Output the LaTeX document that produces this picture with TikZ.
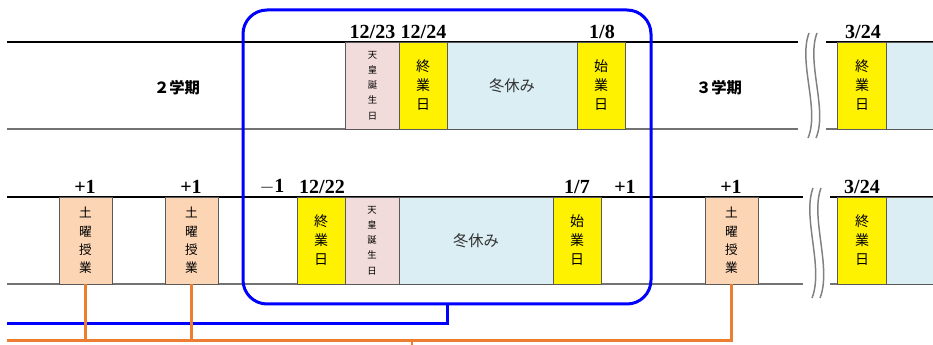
\documentclass[tikz,border=0pt]{standalone}
\usepackage{fontspec}
\newfontfamily\jp{Noto Sans CJK JP}
\newfontfamily\dt{Liberation Serif}
\begin{document}
\begin{tikzpicture}[x=0.75pt,y=-0.75pt,
  cell/.style={draw=black!65, line width=0.7pt, inner sep=0pt, minimum height=65.25pt, align=center},
  wpink/.style={cell, fill=pinkc, minimum width=40pt},
  wyel/.style={cell, fill=yellow, minimum width=36pt},
  wsat/.style={cell, fill=peach, minimum width=39.75pt},
  datelbl/.style={font=\dt\fontsize{15}{15}\selectfont\bfseries, inner sep=0pt},
  toprule/.style={line width=1.6pt, black},
  botrule/.style={line width=1.1pt, black!55},
  blueline/.style={draw=blue, line width=2.25pt},
  orangeline/.style={draw=orangec, line width=2.25pt},
  wave/.style={draw=black!50, line width=1.1pt},
  small/.style={font=\jp\fontsize{7}{11.4}\selectfont},
  mid/.style={font=\jp\fontsize{10.5}{14.2}\selectfont},
  sat/.style={font=\jp\fontsize{9.5}{13.7}\selectfont}
]
\definecolor{pinkc}{HTML}{F2DCDB}
\definecolor{lblue}{HTML}{DAEEF3}
\definecolor{peach}{HTML}{FCD5B4}
\definecolor{orangec}{HTML}{ED7D31}
\useasboundingbox (0,0) rectangle (933,345);
\clip (0,0) rectangle (933,345);

% ---------- top row ----------
\draw[toprule] (7,42) -- (798,42);
\draw[toprule] (826,42) -- (940,42);
\draw[botrule] (7,129) -- (798,129);
\draw[botrule] (826,129) -- (940,129);

\node[wpink, small] (tpink) at (372.5,85.5) {天\\皇\\誕\\生\\日};
\node[wyel, mid] (tyel1) at (423,85.5) {終\\業\\日};
\node[cell, fill=lblue, minimum width=97.5pt, font=\jp\fontsize{11.5}{14}\selectfont, text=black!80] (tblue) at (512,85.5) {冬休み};
\node[wyel, mid] (tyel2) at (601,85.5) {始\\業\\日};
\node[cell, fill=yellow, minimum width=37.5pt, mid] (tyel3) at (862,85.5) {終\\業\\日};
\node[cell, fill=lblue, minimum width=40pt] (tblue2) at (913.5,85.5) {};

\node[font=\jp\fontsize{11.5}{11.5}\selectfont\bfseries] (t2) at (177,88) {２学期};
\node[font=\jp\fontsize{11.5}{11.5}\selectfont\bfseries] (t3) at (719,88) {３学期};

\node[datelbl] (d1223) at (372.5,32) {12/23};
\node[datelbl] (d1224) at (423.5,32) {12/24};
\node[datelbl] (d18) at (602,32) {1/8};
\node[datelbl] (d324a) at (863,32) {3/24};

% ---------- bottom row ----------
\draw[toprule, line width=1.1pt] (7,197) -- (803,197);
\draw[toprule, line width=1.1pt] (830,197) -- (940,197);
\draw[botrule] (7,284) -- (803,284);
\draw[botrule] (830,284) -- (940,284);

\node[wsat, sat] (sat1) at (85.5,240.5) {土\\曜\\授\\業};
\node[wsat, sat] (sat2) at (191.5,240.5) {土\\曜\\授\\業};
\node[wyel, mid] (byel1) at (321,240.5) {終\\業\\日};
\node[cell, fill=pinkc, minimum width=40.5pt, small] (bpink) at (372,240.5) {天\\皇\\誕\\生\\日};
\node[cell, fill=lblue, minimum width=115.5pt, font=\jp\fontsize{11.5}{14}\selectfont, text=black!80] (bblue) at (476,240.5) {冬休み};
\node[wyel, mid] (byel2) at (577,240.5) {始\\業\\日};
\node[wsat, sat] (sat3) at (731.5,240.5) {土\\曜\\授\\業};
\node[cell, fill=yellow, minimum width=37.5pt, mid] (byel3) at (862,240.5) {終\\業\\日};
\node[cell, fill=lblue, minimum width=40pt] (bblue2) at (913.5,240.5) {};

\node[datelbl] (p1) at (85,187) {+1};
\node[datelbl] (p2) at (191,187) {+1};
\node[datelbl] (m1) at (272,187) {$-$1};
\node[datelbl] (d1222) at (322,187) {12/22};
\node[datelbl] (d17) at (577,187) {1/7};
\node[datelbl] (p3) at (625,187) {+1};
\node[datelbl] (p4) at (731,187) {+1};
\node[datelbl] (d324b) at (862,187) {3/24};

% ---------- break marks ----------
\draw[wave] (809,33) .. controls (798,62) and (820,110) .. (808,138);
\draw[wave] (817,33) .. controls (806,62) and (828,110) .. (816,138);
\draw[wave] (813,188) .. controls (802,217) and (824,268) .. (812,298);
\draw[wave] (821,188) .. controls (810,217) and (832,268) .. (820,298);

% ---------- frame and connectors ----------
\node[blueline, rounded corners=18pt, minimum width=306pt, minimum height=220.5pt, inner sep=0pt] (frame) at (447,157) {};
\coordinate (bl) at (7,324);
\coordinate (ol) at (7,341);
\draw[blueline] (frame.south) |- (bl);
\draw[orangeline] (sat3.south) |- (ol);
\draw[orangeline] (sat1.south) -- (sat1.south |- ol);
\draw[orangeline] (sat2.south) -- (sat2.south |- ol);
\coordinate (ot) at (412,339);
\draw[orangeline, line width=1.5pt] (ot) -- (ot |- 0,346);
\end{tikzpicture}
\end{document}
